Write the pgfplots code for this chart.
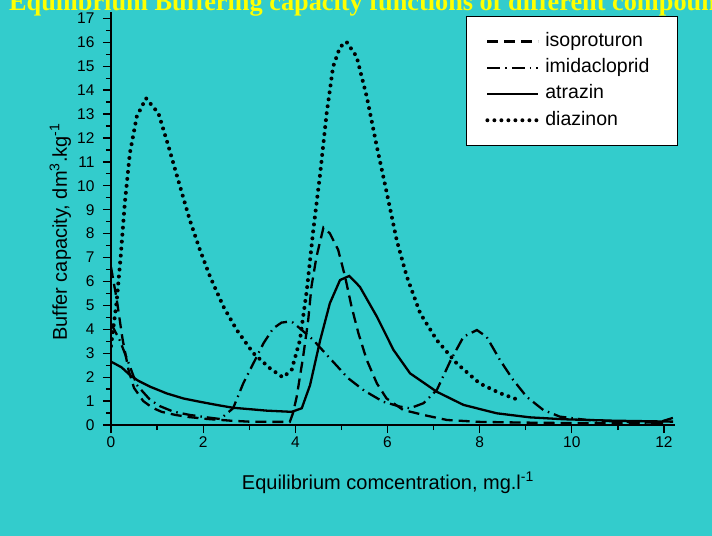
\documentclass[border=0pt]{standalone}
\usepackage{pgfplots}
\pgfplotsset{compat=1.18}
\usepackage{fontspec}
\setmainfont{Liberation Sans}
\newfontfamily\titlefont{Liberation Serif}
\definecolor{bgcyan}{RGB}{51,204,204}
\definecolor{titleyellow}{RGB}{255,255,0}

\begin{document}
\begin{tikzpicture}
\fill[bgcyan] (-111bp,-111bp) rectangle (601bp,425bp);
\begin{axis}[
  x=46.08bp, y=23.92bp,
  xmin=0, xmax=12.24, ymin=0, ymax=17.25,
  enlargelimits=false,
  axis x line=bottom, axis y line=left,
  axis line style={-, line width=1.3bp},
  tick style={line width=1.3bp, black},
  tick align=outside,
  major tick length=8bp, minor tick length=5bp,
  xtick={0,2,...,12}, ytick={0,1,...,17},
  minor x tick num=1, minor y tick num=1,
  /pgf/number format/assume math mode=true,
  ticklabel style={font=\fontsize{15.5bp}{18bp}\selectfont},
  yticklabel style={xshift=-5bp},
  xlabel={Equilibrium comcentration, mg.l\textsuperscript{-1}},
  ylabel={Buffer capacity, dm\textsuperscript{3}.kg\textsuperscript{-1}},
  label style={font=\fontsize{20bp}{24bp}\selectfont},
  xlabel style={at={(axis cs:6.01,-2.676)}, anchor=base},
  ylabel style={at={(axis cs:-0.955,8.07)}, anchor=base},
  legend cell align=left,
  legend image code/.code={\draw[#1] (0bp,0bp) -- (51bp,0bp); \path (56bp,0bp);},
  legend style={at={(axis cs:7.704,17.1)}, anchor=north west,
    draw=black, line width=0.8bp, fill=white,
    font=\fontsize{19.5bp}{22bp}\selectfont,
    inner xsep=19bp, inner ysep=16bp, row sep=8.3bp,
    nodes={inner sep=0pt, text height=14bp, text depth=4bp}},
]
% isoproturon
\addplot[black, line width=2.3bp, dash pattern=on 11bp off 6bp] coordinates {
  (0,6.6) (0.12,5.3) (0.25,3.6) (0.38,2.3) (0.5,1.55) (0.7,1.0) (0.9,0.72)
  (1.1,0.55) (1.4,0.42) (1.7,0.33) (2.1,0.25) (2.6,0.18) (3.0,0.14) (3.5,0.13)
  (3.88,0.13) (3.95,0.5) (4.03,1.18) (4.17,2.86) (4.28,4.39) (4.35,5.78)
  (4.46,7.04) (4.61,8.25) (4.75,8.01) (4.93,7.32) (5.08,6.2) (5.22,4.95)
  (5.37,3.83) (5.55,2.72) (5.77,1.74) (5.98,1.11) (6.34,0.63) (6.78,0.42)
  (7.29,0.21) (8,0.13) (9,0.1) (10,0.08) (11,0.07) (11.9,0.12) (12.2,0.3)
};
\addlegendentry{isoproturon}
% imidacloprid
\addplot[black, line width=2.3bp, dash pattern=on 13bp off 5bp on 1.5bp off 5bp] coordinates {
  (0,4.25) (0.2,3.5) (0.4,2.5) (0.56,1.67) (0.85,1.05) (1.06,0.79) (1.35,0.56)
  (1.71,0.42) (2.08,0.32) (2.37,0.25) (2.65,0.70) (2.87,1.74) (3.09,2.58)
  (3.31,3.42) (3.52,4.04) (3.70,4.28) (3.85,4.32) (3.95,4.28) (4.10,4.04)
  (4.39,3.55) (4.75,2.79) (5.15,1.95) (5.5,1.43) (5.91,0.97) (6.27,0.77)
  (6.49,0.70) (6.78,0.91) (7.07,1.46) (7.37,2.7) (7.65,3.69) (7.94,3.97)
  (8.15,3.69) (8.44,2.72) (8.73,1.88) (9.02,1.18) (9.38,0.63) (9.74,0.35)
  (10.32,0.21) (11.05,0.14) (11.98,0.07)
};
\addlegendentry{imidacloprid\hspace*{9bp}}
% atrazin
\addplot[black, line width=2.3bp] coordinates {
  (0,2.65) (0.23,2.41) (0.41,2.09) (0.59,1.85) (0.85,1.6) (1.21,1.32)
  (1.57,1.11) (1.93,0.97) (2.29,0.84) (2.65,0.72) (3.02,0.66) (3.38,0.60)
  (3.92,0.55) (4.14,0.70) (4.32,1.67) (4.54,3.55) (4.75,5.09) (4.97,6.06)
  (5.17,6.23) (5.40,5.78) (5.77,4.53) (6.13,3.14) (6.49,2.16) (7.07,1.39)
  (7.65,0.84) (8.37,0.49) (9.09,0.32) (9.82,0.24) (10.9,0.18) (12.2,0.14)
};
\addlegendentry{atrazin}
% diazinon
\addplot[black, line width=4bp, line cap=round, dash pattern=on 0bp off 7bp] coordinates {
  (0,3.3) (0.12,5.1) (0.21,7.04) (0.30,9.28) (0.41,11.37) (0.56,12.9)
  (0.76,13.66) (1.03,13.03) (1.24,11.7) (1.50,9.96) (1.71,8.57) (1.93,7.32)
  (2.15,6.2) (2.44,4.95) (2.73,3.97) (3.09,3.0) (3.45,2.37) (3.73,1.99)
  (3.92,2.3) (4.10,3.55) (4.25,5.64) (4.39,8.15) (4.54,10.52) (4.68,13.03)
  (4.82,14.98) (4.97,15.8) (5.11,16.02) (5.33,15.4) (5.55,13.73) (5.77,11.63)
  (5.98,9.75) (6.2,7.73) (6.42,6.2) (6.71,4.67) (7.07,3.55) (7.5,2.58)
  (8.0,1.74) (8.44,1.33) (8.84,1.05)
};
\addlegendentry{diazinon}
\end{axis}
\node[anchor=base west, inner sep=0pt, text=titleyellow,
  font=\titlefont\bfseries\fontsize{26.3bp}{28bp}\selectfont] at (-102bp,414bp)
  {Equilibrium Buffering capacity functions of different compounds};
\pgfresetboundingbox
\useasboundingbox (-111bp,-111bp) rectangle (601bp,425bp);
\end{tikzpicture}
\end{document}
